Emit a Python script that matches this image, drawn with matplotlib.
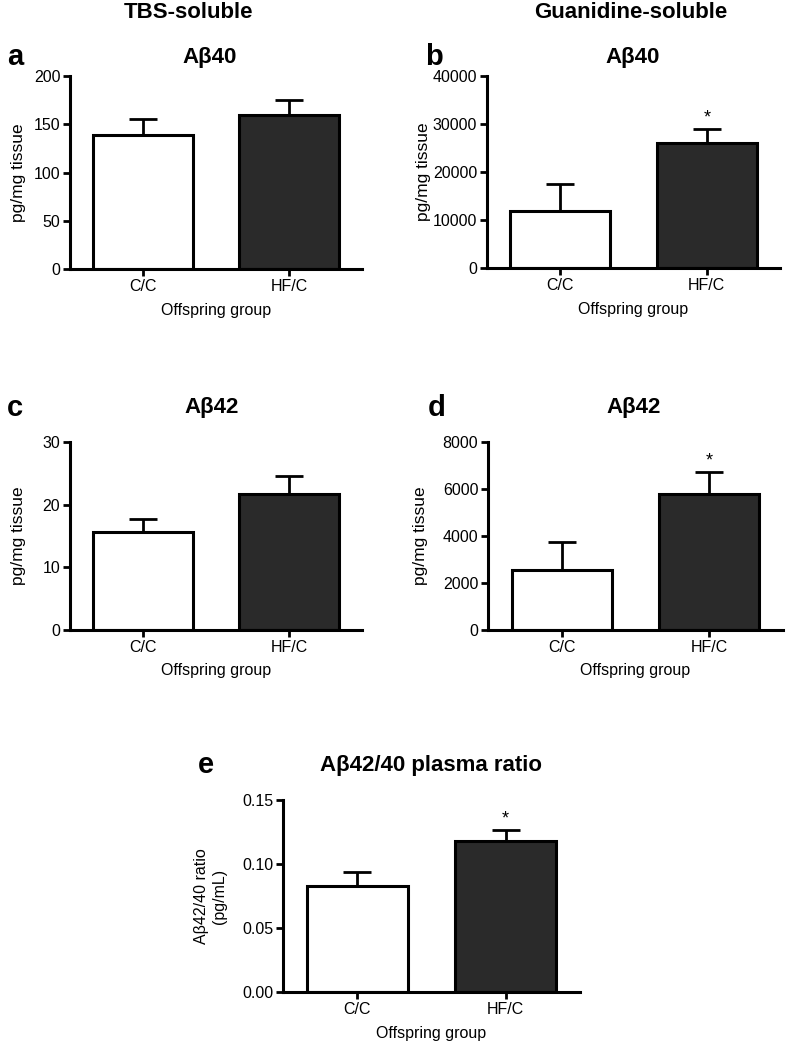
import matplotlib
matplotlib.use('Agg')
import matplotlib.pyplot as plt
import numpy as np

plt.rcParams['font.family'] = ['Liberation Sans', 'DejaVu Sans']

# groups
groups = ['C/C', 'HF/C']

# TBS-soluble Abeta40 / Abeta42 (mean, sem)
tbs_ab40 = [139, 160]
tbs_ab40_err = [16, 15]
tbs_ab42 = [15.6, 21.7]
tbs_ab42_err = [2.1, 2.9]

# guanidine-soluble
gua_ab40 = [11900, 26000]
gua_ab40_err = [5700, 3000]
gua_ab42 = [2550, 5800]
gua_ab42_err = [1200, 920]

# plasma ratio
ratio = [0.083, 0.118]
ratio_err = [0.0105, 0.0085]

# significance marks
stars_b = ['', '*']
stars_d = ['', '*']
stars_e = ['', '*']

W = 787.0
H = 1044.0
bar_colors = ['white', '#2a2a2a']


def px_axes(fig, left, right, top, bottom):
    return fig.add_axes([left / W, 1 - bottom / H, (right - left) / W, (bottom - top) / H])


def panel(ax, vals, errs, ymax, ystep, ylabel, fmt=None, stars=None, ylab_x=-0.18, ylab_size=12.5):
    x = np.arange(len(groups))
    ax.bar(x, vals, width=0.68, color=bar_colors, edgecolor='black', linewidth=2.2, zorder=2)
    ax.errorbar(x, vals, yerr=[np.zeros(len(vals)), errs], fmt='none', ecolor='black',
                elinewidth=2, capsize=10, capthick=2, zorder=1)
    ax.set_xlim(-0.5, 1.5)
    ax.set_ylim(0, ymax)
    ticks = np.arange(0, ymax + ystep / 2, ystep)
    ax.set_yticks(ticks)
    if fmt:
        ax.set_yticklabels([fmt.format(v) for v in ticks])
    ax.set_xticks(x)
    ax.set_xticklabels(groups)
    for s in ['top', 'right']:
        ax.spines[s].set_visible(False)
    for s in ['left', 'bottom']:
        ax.spines[s].set_linewidth(2.2)
    ax.tick_params(axis='both', direction='out', length=5, width=2, labelsize=11.5, pad=2)
    ax.set_ylabel(ylabel, fontsize=ylab_size)
    ax.yaxis.set_label_coords(ylab_x, 0.5)
    ax.set_xlabel('Offspring group', fontsize=11.5)
    ax.xaxis.set_label_coords(0.5, -0.175)
    if stars:
        for i, s in enumerate(stars):
            if s:
                ax.annotate(s, (x[i], vals[i] + errs[i]), xytext=(0, 2), textcoords='offset points',
                            ha='center', va='bottom', fontsize=13)


fig = plt.figure(figsize=(W / 100, H / 100), dpi=100)

ax_a = px_axes(fig, 70, 362, 76, 269)
ax_b = px_axes(fig, 487, 780, 76, 268)
ax_c = px_axes(fig, 70, 362, 442, 630)
ax_d = px_axes(fig, 488, 783, 442, 630)
ax_e = px_axes(fig, 283, 580, 800, 992)

panel(ax_a, tbs_ab40, tbs_ab40_err, 200, 50, 'pg/mg tissue', ylab_x=-0.15)
panel(ax_b, gua_ab40, gua_ab40_err, 40000, 10000, 'pg/mg tissue', stars=stars_b, ylab_x=-0.19)
panel(ax_c, tbs_ab42, tbs_ab42_err, 30, 10, 'pg/mg tissue', ylab_x=-0.15)
panel(ax_d, gua_ab42, gua_ab42_err, 8000, 2000, 'pg/mg tissue', stars=stars_d, ylab_x=-0.203)
panel(ax_e, ratio, ratio_err, 0.15, 0.05, 'A\u03b242/40 ratio\n(pg/mL)', fmt='{:.2f}',
      stars=stars_e, ylab_x=-0.19, ylab_size=11.5)

# column headings
fig.text(189 / W, 1 - 13 / H, 'TBS-soluble', ha='center', va='center', fontsize=16, fontweight='bold')
fig.text(631 / W, 1 - 13 / H, 'Guanidine-soluble', ha='center', va='center', fontsize=16, fontweight='bold')

# panel titles
titles = [(210, 57, 'A\u03b240'), (633, 57, 'A\u03b240'), (212, 408, 'A\u03b242'),
          (634, 408, 'A\u03b242'), (431, 765, 'A\u03b242/40 plasma ratio')]
for tx, ty, t in titles:
    fig.text(tx / W, 1 - ty / H, t, ha='center', va='center', fontsize=16, fontweight='bold')

# panel letters
letters = [(15, 57, 'a'), (434, 57, 'b'), (15, 408, 'c'), (437, 408, 'd'), (206, 765, 'e')]
for lx, ly, l in letters:
    fig.text(lx / W, 1 - ly / H, l, ha='center', va='center', fontsize=21, fontweight='bold')

fig.savefig('out.png', dpi=100)
